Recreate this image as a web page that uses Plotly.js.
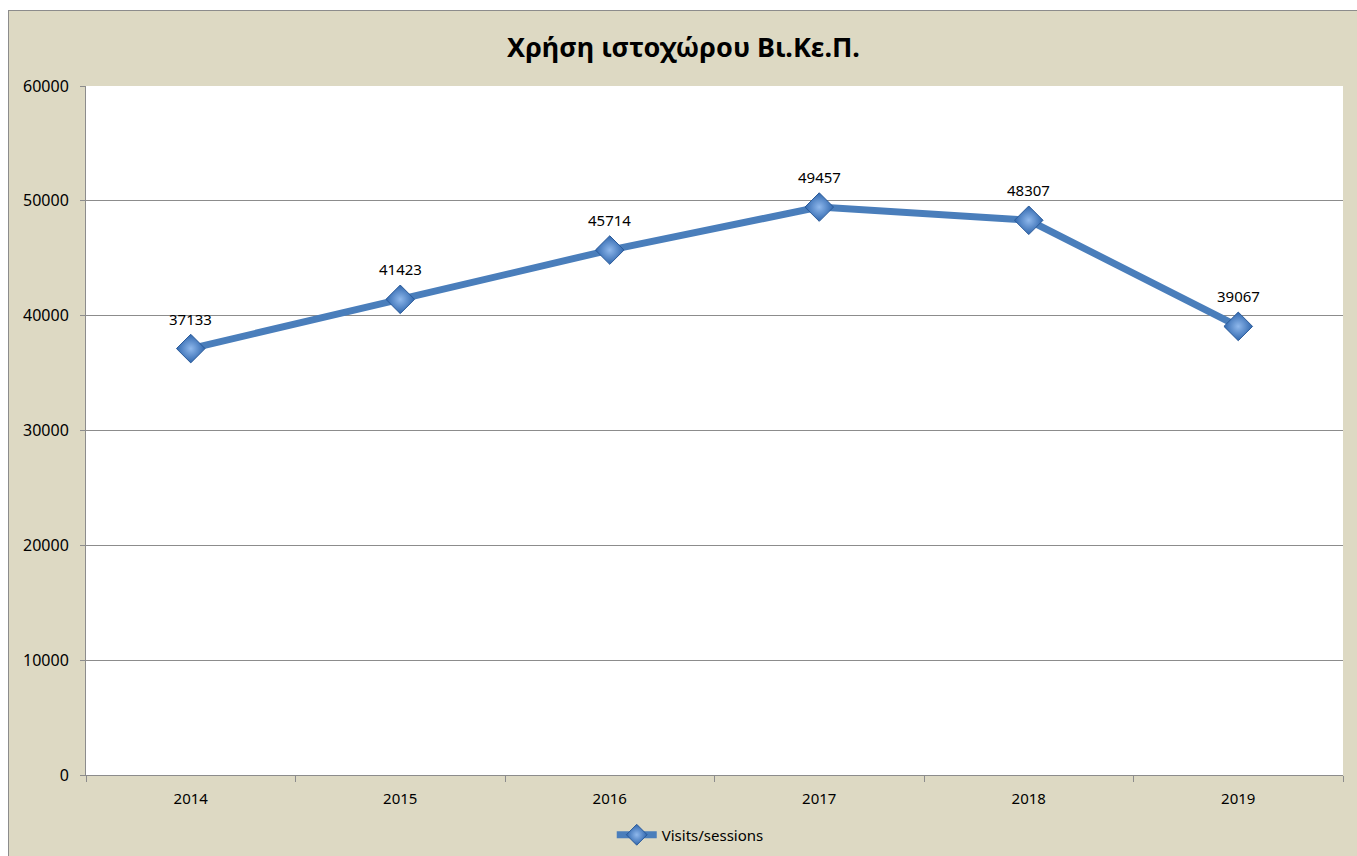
<!DOCTYPE html>
<html>
<head>
<meta charset="utf-8">
<script src="https://cdn.plot.ly/plotly-3.0.1.min.js"></script>
<style>
html,body{margin:0;padding:0;background:#ffffff;overflow:hidden;width:1357px;height:856px;}
#chart{position:absolute;left:8px;top:10px;width:1349px;height:846px;border-left:1px solid #8c8c8c;border-top:1px solid #8c8c8c;}
</style>
</head>
<body>
<div id="chart"></div>
<script>
const years = ['2014', '2015', '2016', '2017', '2018', '2019'];
const visits = [37133, 41423, 45714, 49457, 48307, 39067];
const seriesName = 'Visits/sessions';
const chartTitle = 'Χρήση ιστοχώρου Βι.Κε.Π.';

const FONT = 'Noto Sans, Open Sans, DejaVu Sans, sans-serif';

const trace = {
  x: years,
  y: visits,
  type: 'scatter',
  mode: 'lines+markers',
  name: seriesName,
  line: {color: '#4A7EBB', width: 7},
  marker: {
    symbol: 'diamond',
    size: 22,
    color: '#2F66AD',
    gradient: {type: 'radial', color: '#8FB8EC'},
    line: {color: '#2A5A99', width: 1}
  },
  hoverinfo: 'x+y'
};

const annotations = years.map((yr, i) => ({
  x: i, y: visits[i], xref: 'x', yref: 'y',
  text: String(visits[i]), showarrow: false,
  yshift: 30, font: {family: FONT, size: 15, color: '#000000'}
}));

const layout = {
  width: 1349, height: 846,
  paper_bgcolor: '#DDD9C3',
  plot_bgcolor: '#FFFFFF',
  margin: {l: 77, r: 15, t: 75, b: 82},
  title: {
    text: '<b>' + chartTitle + '</b>',
    font: {family: FONT, size: 27, color: '#000000'},
    x: 0.5, xref: 'container', xanchor: 'center',
    y: 0.957, yref: 'container', yanchor: 'middle'
  },
  font: {family: FONT, size: 16, color: '#000000'},
  xaxis: {
    type: 'category',
    categoryorder: 'array', categoryarray: years,
    range: [-0.5, years.length - 0.5], autorange: false,
    showline: true, linecolor: '#8c8c8c', linewidth: 1,
    ticks: 'outside', tickson: 'boundaries', ticklen: 6, tickcolor: '#8c8c8c',
    showgrid: false, zeroline: false, tickangle: 0,
    tickfont: {family: FONT, size: 15, color: '#000000'},
    ticklabelstandoff: 10
  },
  yaxis: {
    range: [0, 60000], autorange: false, dtick: 10000, tick0: 0,
    tickformat: 'd',
    showline: true, linecolor: '#8c8c8c', linewidth: 1,
    ticks: 'outside', ticklen: 5, tickcolor: '#8c8c8c',
    showgrid: true, gridcolor: '#8c8c8c', gridwidth: 1,
    zeroline: false,
    tickfont: {family: FONT, size: 16, color: '#000000'},
    ticklabelstandoff: 8
  },
  showlegend: true,
  legend: {
    orientation: 'h',
    xref: 'container', x: 0.505, xanchor: 'center',
    yref: 'container', y: 0.026, yanchor: 'middle',
    bgcolor: 'rgba(0,0,0,0)',
    font: {family: FONT, size: 15, color: '#000000'},
    itemwidth: 40
  },
  annotations: annotations
};

Plotly.newPlot('chart', [trace], layout, {displayModeBar: false});
</script>
</body>
</html>
